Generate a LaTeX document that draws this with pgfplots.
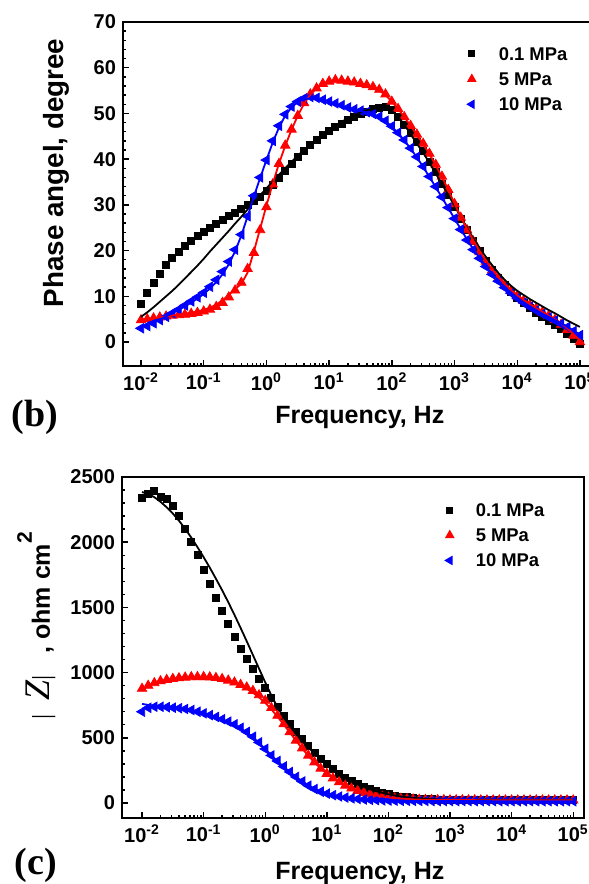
\documentclass[border=0pt]{standalone}
\usepackage{fontspec}
\setmainfont{Liberation Sans}
\newfontfamily\seriffont{Liberation Serif}
\usepackage{pgfplots}
\pgfplotsset{compat=1.18}
\usepackage{pgfplotstable}

\pgfplotstableread{
e    P1   P1f  P2   P2f  P3   P3f
-2.0 8.3  5.5  4.8  4.5  3.0  3.4
-1.9 10.8 6.5  5.0  4.8  3.5  3.8
-1.8 13.0 7.6  5.2  5.1  4.1  4.3
-1.7 15.0 8.8  5.4  5.4  4.8  4.9
-1.6 16.8 10.0 5.6  5.6  5.5  5.6
-1.5 18.4 11.2 5.8  5.8  6.3  6.3
-1.4 19.8 12.5 5.9  6.0  7.1  7.0
-1.3 21.1 13.9 6.0  6.2  8.0  7.8
-1.2 22.2 15.3 6.2  6.4  8.9  8.6
-1.1 23.2 16.7 6.4  6.7  9.8  9.5
-1.0 24.1 18.2 6.7  7.0  10.8 10.5
-0.9 25.0 19.8 7.1  7.5  12.1 11.7
-0.8 25.9 21.3 7.7  8.2  13.6 13.1
-0.7 26.7 22.8 8.6  9.1  15.4 14.8
-0.6 27.5 24.3 9.8  10.3 17.6 17.0
-0.5 28.3 25.9 11.3 11.6 20.2 19.8
-0.4 29.1 27.4 13.0 12.7 23.5 23.3
-0.3 29.9 29.0 16.0 15.2 27.5 27.5
-0.2 30.8 30.6 19.5 19.8 32.0 31.8
-0.1 31.8 32.1 24.5 24.8 36.0 35.9
0.0  33.0 33.6 29.5 29.8 39.8 39.8
0.1  34.3 35.1 34.5 34.6 44.0 43.6
0.2  35.8 36.6 39.0 39.0 47.3 46.9
0.3  37.4 38.0 43.0 42.9 49.8 49.5
0.4  39.0 39.4 46.5 46.4 51.5 51.3
0.5  40.5 40.8 49.5 49.5 52.6 52.5
0.6  41.9 42.0 52.3 52.1 53.3 53.1
0.7  43.2 43.2 54.2 54.1 53.6 53.3
0.8  44.3 44.3 55.5 55.5 53.4 53.1
0.9  45.3 45.4 56.5 56.4 53.0 52.8
1.0  46.2 46.4 57.0 56.9 52.6 52.4
1.1  47.0 47.3 57.3 57.1 52.2 52.0
1.2  47.8 48.2 57.2 57.1 51.8 51.6
1.3  48.5 48.9 57.0 57.0 51.3 51.2
1.4  49.2 49.6 56.8 56.8 50.9 50.8
1.5  49.8 50.2 56.5 56.5 50.6 50.5
1.6  50.4 50.7 56.2 56.2 50.3 50.2
1.7  50.9 51.0 55.8 55.7 49.9 49.8
1.8  51.3 51.2 55.2 55.0 49.3 49.2
1.9  51.4 51.0 54.2 54.0 48.4 48.3
2.0  50.7 50.6 52.6 52.6 47.2 47.1
2.1  49.2 49.3 51.0 51.0 45.8 45.7
2.2  47.5 47.5 49.2 49.2 44.2 44.1
2.3  45.7 45.5 47.3 47.3 42.4 42.3
2.4  43.8 43.4 45.4 45.3 40.5 40.4
2.5  41.7 41.4 43.4 43.3 38.4 38.3
2.6  39.5 39.2 41.2 41.1 36.2 36.1
2.7  37.1 36.9 38.8 38.7 34.0 33.9
2.8  34.6 34.5 36.2 36.1 31.7 31.6
2.9  32.1 32.2 33.3 33.3 29.4 29.3
3.0  29.6 29.8 30.2 30.3 27.0 27.0
3.1  27.0 27.4 27.2 27.4 24.6 24.7
3.2  24.5 25.0 24.5 24.7 22.3 22.4
3.3  22.1 22.7 22.0 22.2 20.2 20.3
3.4  19.9 20.6 19.7 19.9 18.3 18.4
3.5  17.8 18.6 17.6 17.8 16.5 16.6
3.6  15.8 16.8 15.7 15.9 14.8 14.9
3.7  14.0 15.1 14.0 14.2 13.3 13.4
3.8  12.4 13.6 12.5 12.7 11.9 12.0
3.9  11.0 12.3 11.2 11.4 10.7 10.8
4.0  9.7  11.2 10.0 10.2 9.6  9.7
4.1  8.5  10.3 9.0  9.2  8.6  8.7
4.2  7.4  9.4  8.1  8.3  7.7  7.8
4.3  6.4  8.6  7.3  7.4  6.9  7.0
4.4  5.5  7.8  6.5  6.6  6.1  6.2
4.5  4.6  7.0  5.7  5.8  5.4  5.5
4.6  3.7  6.3  4.8  5.0  4.7  4.8
4.7  2.8  5.5  3.8  4.1  4.0  4.1
4.8  1.8  4.7  2.7  3.0  3.3  3.3
4.9  0.7  4.0  1.4  1.7  2.4  2.5
5.0  -0.5 3.3  0.0  0.3  1.5  1.6
}\phasedata

\pgfplotstableread{
e    Z1   Z1f  Z2   Z2f  Z3   Z3f
-2.0 2342 2385 877  870  700  760
-1.9 2370 2370 900  895  730  752
-1.8 2390 2345 920  916  738  746
-1.7 2350 2310 935  932  738  741
-1.6 2335 2268 945  944  735  736
-1.5 2280 2220 953  952  731  731
-1.4 2205 2165 958  958  727  726
-1.3 2105 2103 963  962  721  720
-1.2 2005 2035 966  964  713  712
-1.1 1900 1962 967  965  700  701
-1.0 1790 1885 967  964  688  689
-0.9 1680 1805 965  961  674  675
-0.8 1575 1720 960  956  660  660
-0.7 1470 1632 952  948  643  643
-0.6 1370 1540 940  936  624  623
-0.5 1275 1443 925  920  603  600
-0.4 1185 1343 907  900  577  573
-0.3 1105 1240 887  876  545  541
-0.2 1030 1135 860  846  508  504
-0.1 955  1030 828  810  465  461
0.0  880  925  785  768  415  413
0.1  805  825  730  718  365  365
0.2  735  735  670  662  322  320
0.3  665  655  605  602  280  278
0.4  605  590  545  540  238  238
0.5  545  530  480  478  200  201
0.6  488  475  420  418  165  167
0.7  435  425  365  362  133  136
0.8  385  378  313  311  107  110
0.9  340  335  265  265  87   89
1.0  298  295  225  225  72   73
1.1  260  258  190  190  60   61
1.2  226  225  160  160  50   51
1.3  195  195  134  134  42   43
1.4  168  168  112  113  36   36
1.5  144  144  94   95   31   31
1.6  123  124  79   80   27   27
1.7  105  106  67   68   24   24
1.8  90   91   57   58   22   22
1.9  77   78   49   50   20   20
2.0  66   67   42   43   19   19
2.1  57   58   37   38   18   18
2.2  49   50   33   34   17   17
2.3  43   44   30   31   17   17
2.4  38   39   28   28   16   16
2.5  34   35   26   26   16   16
2.6  31   32   25   25   16   16
2.7  28   29   24   24   15   15
2.8  26   27   23   23   15   15
2.9  24   25   23   23   15   15
3.0  23   24   22   22   15   15
3.1  22   23   22   22   15   15
3.2  22   23   22   22   15   15
3.3  22   22   22   22   15   15
3.4  22   22   22   22   15   15
3.5  21   22   21   21   15   15
3.6  21   22   21   21   15   15
3.7  21   21   21   21   14   14
3.8  21   21   21   21   14   14
3.9  21   21   21   21   14   14
4.0  21   21   21   21   14   14
4.1  21   21   21   21   14   14
4.2  21   21   21   21   14   14
4.3  20   21   21   21   14   14
4.4  20   21   21   21   14   14
4.5  20   20   21   21   14   14
4.6  20   20   21   21   14   14
4.7  20   20   21   21   14   14
4.8  20   20   21   21   14   14
4.9  20   20   21   21   14   14
5.0  20   20   21   21   14   14
}\impdata

\newcommand{\tkl}[1]{\textbf{10\textsuperscript{#1}}}

\pgfplotsset{
  eiscommon/.style={
    scale only axis,
    clip mode=individual,
    axis line style={line width=1.1pt},
    tick pos=left,
    tick align=inside,
    major tick length=3pt,
    minor tick length=1.7pt,
    tick style={line width=0.7pt, black},
    xtick={1e-2,1e-1,1,10,100,1000,10000,100000},
    xticklabels={\tkl{-2},\tkl{-1},\tkl{0},\tkl{1},\tkl{2},\tkl{3},\tkl{4},\tkl{5}},
    tick label style={font=\bfseries\fontsize{10}{12}\selectfont},
    /pgf/number format/assume math mode=true,
    /pgf/number format/1000 sep={},
    scaled y ticks=false,
    minor y tick num=4,
    label style={font=\bfseries\fontsize{12.5}{15}\selectfont},
    legend cell align=left,
  },
  legsq/.style={legend image code/.code={\path[draw=none,fill=none] (-3pt,-3pt) rectangle (3pt,3pt); \path[draw=none,fill=black] (-1.75pt,-1.75pt) rectangle (1.75pt,1.75pt);}},
  legup/.style={legend image code/.code={\path[draw=none,fill=none] (-3pt,-3pt) rectangle (3pt,3pt); \path[draw=none,fill=red] (0pt,2.8pt) -- (-2.425pt,-1.4pt) -- (2.425pt,-1.4pt) -- cycle;}},
  legleft/.style={legend image code/.code={\path[draw=none,fill=none] (-3pt,-3pt) rectangle (3pt,3pt); \path[draw=none,fill=blue] (-2.8pt,0pt) -- (1.4pt,2.425pt) -- (1.4pt,-2.425pt) -- cycle;}},
}

\begin{document}
\begin{tikzpicture}
% top panel (b)
\begin{axis}[xmode=log, eiscommon,
  at={(61.5pt,259pt)}, anchor=south west,
  width=234pt, height=172pt,
  xmin=5.16e-3, xmax=1.503e5,
  ymin=-5.25, ymax=70,
  ytick={0,10,...,70},
  ylabel={Phase angel, degree},
  ylabel style={at={(axis description cs:-0.128,0.561)}, anchor=base, rotate=0, font=\bfseries\fontsize{13.9}{16}\selectfont},
  xlabel={Frequency, Hz},
  xlabel style={at={(axis description cs:0.506,-0.166)}, anchor=base},
  legend style={at={(axis description cs:0.7325,0.932)}, anchor=north west,
      draw=none, fill=none, inner sep=0pt, outer sep=0pt, row sep=4.1pt,
      nodes={inner sep=1pt, font=\bfseries\fontsize{9.2}{10}\selectfont, text height=6.5pt, text depth=0pt},
      /tikz/every odd column/.append style={column sep=9.5pt}},
]
\addlegendimage{legsq}
\addlegendentry{0.1 MPa}
\addlegendimage{legup}
\addlegendentry{5 MPa}
\addlegendimage{legleft}
\addlegendentry{10 MPa}
\addplot[forget plot, only marks, mark=square*, mark size=1.75pt, black, mark options={fill=black, draw=black}] table[x expr={10^(\thisrow{e})}, y=P1] {\phasedata};
\addplot[forget plot, only marks, mark=triangle*, mark size=2.7pt, red, mark options={fill=red, draw=red}] table[x expr={10^(\thisrow{e})}, y=P2] {\phasedata};
\addplot[forget plot, only marks, mark=triangle*, mark size=2.7pt, blue, mark options={fill=blue, draw=blue, rotate=90}] table[x expr={10^(\thisrow{e})}, y=P3] {\phasedata};
\addplot[no marks, line width=0.9pt, forget plot, black] table[x expr={10^(\thisrow{e})}, y=P1f] {\phasedata};
\addplot[no marks, line width=0.9pt, forget plot, red] table[x expr={10^(\thisrow{e})}, y=P2f] {\phasedata};
\addplot[no marks, line width=0.9pt, forget plot, blue] table[x expr={10^(\thisrow{e})}, y=P3f] {\phasedata};
\node[font=\seriffont\bfseries\fontsize{19}{21}\selectfont, anchor=center] at (axis description cs:-0.188,-0.148) {(b)};
\end{axis}

% bottom panel (c)
\begin{axis}[xmode=log, eiscommon,
  at={(61pt,33pt)}, anchor=south west,
  width=231pt, height=170.5pt,
  xmin=4.73e-3, xmax=1.496e5,
  ymin=-115, ymax=2500,
  ytick={0,500,...,2500},
  ylabel={{\fontsize{12.8}{14}\seriffont\mdseries\textbar}\hspace{7pt}{\fontsize{18}{20}\seriffont\mdseries\itshape Z}{\fontsize{12.8}{14}\seriffont\mdseries\textbar}\hspace{11pt}, ohm cm\raisebox{9pt}{\fontsize{10.5}{12}\selectfont 2}},
  ylabel style={at={(axis description cs:-0.156,0.563)}, anchor=base, rotate=0},
  xlabel={Frequency, Hz},
  xlabel style={at={(axis description cs:0.515,-0.179)}, anchor=base},
  legend style={at={(axis description cs:0.6965,0.928)}, anchor=north west,
      draw=none, fill=none, inner sep=0pt, outer sep=0pt, row sep=4.1pt,
      nodes={inner sep=1pt, font=\bfseries\fontsize{9.2}{10}\selectfont, text height=6.5pt, text depth=0pt},
      /tikz/every odd column/.append style={column sep=9pt}},
]
\addlegendimage{legsq}
\addlegendentry{0.1 MPa}
\addlegendimage{legup}
\addlegendentry{5 MPa}
\addlegendimage{legleft}
\addlegendentry{10 MPa}
\addplot[forget plot, only marks, mark=square*, mark size=1.75pt, black, mark options={fill=black, draw=black}] table[x expr={10^(\thisrow{e})}, y=Z1] {\impdata};
\addplot[forget plot, only marks, mark=triangle*, mark size=2.7pt, red, mark options={fill=red, draw=red}] table[x expr={10^(\thisrow{e})}, y=Z2] {\impdata};
\addplot[forget plot, only marks, mark=triangle*, mark size=2.7pt, blue, mark options={fill=blue, draw=blue, rotate=90}] table[x expr={10^(\thisrow{e})}, y=Z3] {\impdata};
\addplot[no marks, line width=0.9pt, forget plot, black] table[x expr={10^(\thisrow{e})}, y=Z1f] {\impdata};
\addplot[no marks, line width=0.9pt, forget plot, red] table[x expr={10^(\thisrow{e})}, y=Z2f] {\impdata};
\addplot[no marks, line width=0.9pt, forget plot, blue] table[x expr={10^(\thisrow{e})}, y=Z3f] {\impdata};
\node[font=\seriffont\bfseries\fontsize{19}{21}\selectfont, anchor=center] at (axis description cs:-0.186,-0.138) {(c)};
\end{axis}
\pgfresetboundingbox
\useasboundingbox (0pt,0pt) rectangle (294.5pt,442pt);
\end{tikzpicture}
\end{document}
